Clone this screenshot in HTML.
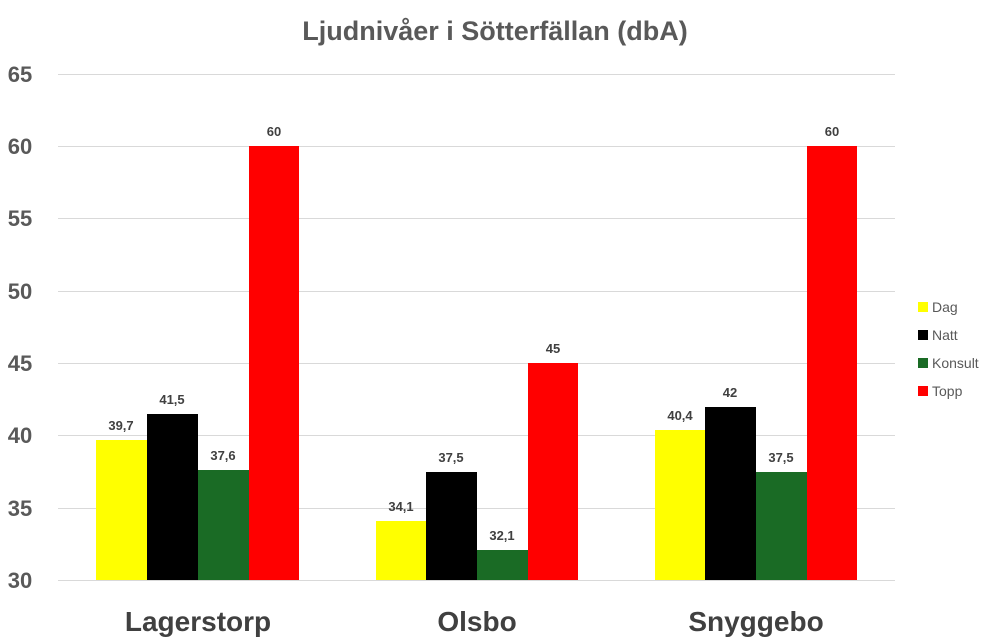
<!DOCTYPE html>
<html><head><meta charset="utf-8"><style>
html,body{margin:0;padding:0;background:#fff;}
svg{display:block;font-family:"Liberation Sans",sans-serif;}
</style></head><body>
<svg width="988" height="640" viewBox="0 0 988 640">
<text x="495" y="40" text-anchor="middle" font-size="27" font-weight="bold" fill="#595959">Ljudnivåer i Sötterfällan (dbA)</text>
<g stroke="#d9d9d9" stroke-width="1">
<line x1="58" x2="895" y1="74.5" y2="74.5"/>
<line x1="58" x2="895" y1="146.5" y2="146.5"/>
<line x1="58" x2="895" y1="218.5" y2="218.5"/>
<line x1="58" x2="895" y1="291.5" y2="291.5"/>
<line x1="58" x2="895" y1="363.5" y2="363.5"/>
<line x1="58" x2="895" y1="435.5" y2="435.5"/>
<line x1="58" x2="895" y1="508.5" y2="508.5"/>
<line x1="58" x2="895" y1="580.5" y2="580.5"/>
</g>
<g font-size="22" font-weight="bold" fill="#595959" text-anchor="middle">
<text x="20" y="82">65</text><text x="20" y="154">60</text><text x="20" y="226">55</text><text x="20" y="299">50</text><text x="20" y="371">45</text><text x="20" y="443">40</text><text x="20" y="516">35</text><text x="20" y="588">30</text>
</g>
<rect x="96" y="440" width="51" height="140" fill="#ffff00"/>
<rect x="147" y="414" width="51" height="166" fill="#000"/>
<rect x="198" y="470" width="51" height="110" fill="#1a6b25"/>
<rect x="249" y="146" width="50" height="434" fill="#ff0000"/>
<rect x="376" y="521" width="50" height="59" fill="#ffff00"/>
<rect x="426" y="472" width="51" height="108" fill="#000"/>
<rect x="477" y="550" width="51" height="30" fill="#1a6b25"/>
<rect x="528" y="363" width="50" height="217" fill="#ff0000"/>
<rect x="655" y="430" width="50" height="150" fill="#ffff00"/>
<rect x="705" y="407" width="51" height="173" fill="#000"/>
<rect x="756" y="472" width="51" height="108" fill="#1a6b25"/>
<rect x="807" y="146" width="50" height="434" fill="#ff0000"/>
<g font-size="13" font-weight="bold" fill="#404040" text-anchor="middle">
<text x="121" y="430">39,7</text><text x="172" y="404">41,5</text><text x="223" y="460">37,6</text><text x="274" y="136">60</text>
<text x="401" y="511">34,1</text><text x="451" y="462">37,5</text><text x="502" y="540">32,1</text><text x="553" y="353">45</text>
<text x="680" y="420">40,4</text><text x="730" y="397">42</text><text x="781" y="462">37,5</text><text x="832" y="136">60</text>
</g>
<g font-size="28" font-weight="bold" fill="#404040" text-anchor="middle">
<text x="198" y="631">Lagerstorp</text><text x="477" y="631">Olsbo</text><text x="756" y="631">Snyggebo</text>
</g>
<g font-size="14" fill="#595959">
<rect x="918" y="302" width="10" height="10" fill="#ffff00"/><text x="932" y="312">Dag</text>
<rect x="918" y="330" width="10" height="10" fill="#000"/><text x="932" y="340">Natt</text>
<rect x="918" y="358" width="10" height="10" fill="#1a6b25"/><text x="932" y="368">Konsult</text>
<rect x="918" y="386" width="10" height="10" fill="#ff0000"/><text x="932" y="396">Topp</text>
</g>
</svg>
</body></html>
